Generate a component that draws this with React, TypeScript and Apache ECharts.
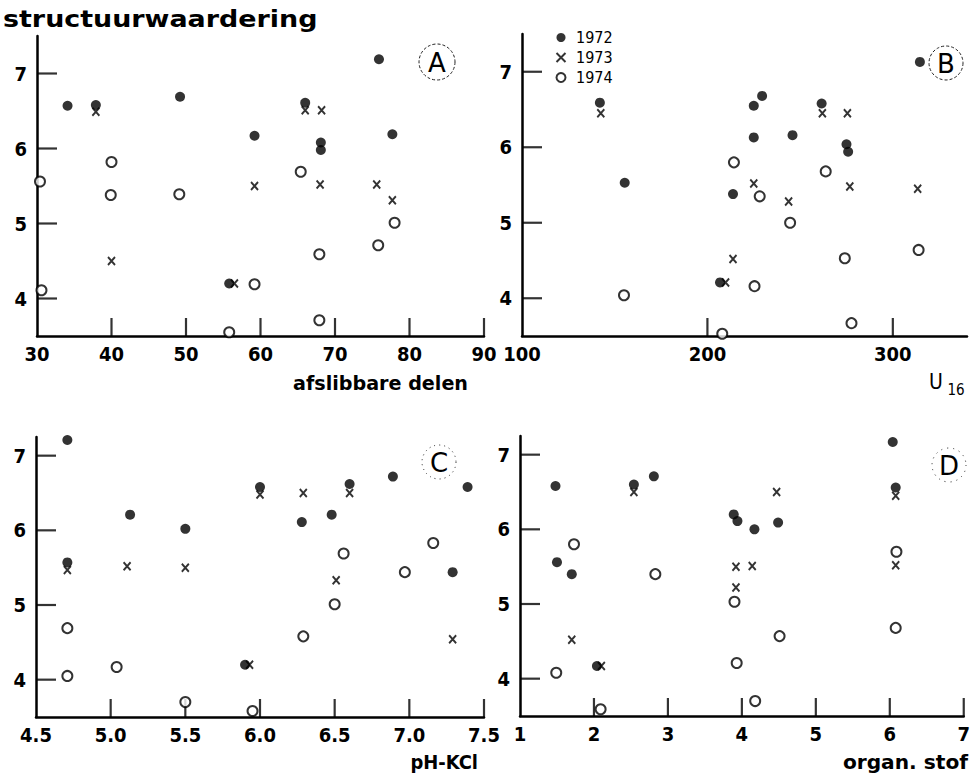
import React, { useEffect, useRef } from "react";
import * as echarts from "echarts";

// ---------- data: [x, structuurwaardering] ----------
const A_1972: [number, number][] = [
  [34.1, 6.57], [37.9, 6.58], [49.2, 6.69], [59.2, 6.17], [66.0, 6.61],
  [68.1, 6.08], [68.1, 5.98], [75.9, 7.19], [77.7, 6.19], [55.8, 4.2],
];
const A_1973: [number, number][] = [
  [37.9, 6.49], [66.0, 6.51], [68.2, 6.51], [59.2, 5.5], [68.0, 5.52],
  [75.6, 5.52], [77.7, 5.31], [40.0, 4.5], [56.5, 4.2],
];
const A_1974: [number, number][] = [
  [30.4, 5.56], [30.6, 4.11], [40.0, 5.82], [39.9, 5.38], [49.1, 5.39],
  [65.4, 5.69], [59.2, 4.19], [55.8, 3.55], [67.9, 3.71], [67.9, 4.59],
  [75.8, 4.71], [78.0, 5.01],
];

const B_1972: [number, number][] = [
  [142, 6.59], [155.4, 5.53], [213.8, 5.38], [225, 6.55], [229.5, 6.68],
  [225, 6.13], [245.9, 6.16], [261.6, 6.58], [275, 6.04], [275.9, 5.94],
  [314.6, 7.13], [206.8, 4.21],
];
const B_1973: [number, number][] = [
  [142.5, 6.45], [262, 6.45], [275.5, 6.45], [225, 5.52], [243.8, 5.28],
  [276.8, 5.48], [313.4, 5.45], [213.8, 4.52], [209.8, 4.21],
];
const B_1974: [number, number][] = [
  [155, 4.04], [214.3, 5.8], [228.2, 5.35], [263.8, 5.68], [244.6, 5.0],
  [225.4, 4.16], [208, 3.53], [274.1, 4.53], [277.7, 3.67], [313.9, 4.64],
];

const C_1972: [number, number][] = [
  [4.71, 7.21], [4.71, 5.57], [5.13, 6.21], [5.5, 6.02], [6.0, 6.58],
  [6.28, 6.11], [6.48, 6.21], [6.6, 6.62], [6.89, 6.72], [7.39, 6.58],
  [7.29, 5.44], [5.9, 4.2],
];
const C_1973: [number, number][] = [
  [4.71, 5.47], [5.11, 5.52], [5.5, 5.5], [6.0, 6.48], [6.29, 6.5],
  [6.6, 6.5], [6.51, 5.33], [7.29, 4.54], [5.93, 4.2],
];
const C_1974: [number, number][] = [
  [4.71, 4.69], [4.71, 4.05], [5.04, 4.17], [5.5, 3.7], [5.95, 3.58],
  [6.29, 4.58], [6.5, 5.01], [6.56, 5.69], [6.97, 5.44], [7.16, 5.83],
];

const D_1972: [number, number][] = [
  [1.48, 6.58], [1.5, 5.56], [1.7, 5.4], [2.54, 6.6], [2.81, 6.71],
  [3.89, 6.2], [3.94, 6.11], [4.17, 6.0], [4.49, 6.09], [6.04, 7.17],
  [6.08, 6.56], [2.04, 4.17],
];
const D_1973: [number, number][] = [
  [2.54, 6.5], [1.7, 4.52], [4.47, 6.5], [3.92, 5.5], [4.14, 5.51],
  [3.92, 5.22], [6.08, 6.45], [6.08, 5.52], [2.1, 4.17],
];
const D_1974: [number, number][] = [
  [1.49, 4.08], [1.73, 5.8], [2.83, 5.4], [3.9, 5.03], [3.93, 4.21],
  [4.18, 3.7], [4.51, 4.57], [6.09, 5.7], [6.08, 4.68], [2.09, 3.59],
];

const YEARS = ["1972", "1973", "1974"];
const Y_TICKS = [4, 5, 6, 7];
const A_TICKS = [30, 40, 50, 60, 70, 80, 90];
const B_TICKS = [100, 200, 300];
const C_TICKS = [4.5, 5.0, 5.5, 6.0, 6.5, 7.0, 7.5];
const D_TICKS = [1, 2, 3, 4, 5, 6, 7];

const TITLE = "structuurwaardering";
const X_NAMES = ["afslibbare delen", "U", "16", "pH-KCl", "organ. stof"];
const PANEL_LETTERS = ["A", "B", "C", "D"];

const NUM_FONT = "'DejaVu Sans Condensed', 'Liberation Sans Narrow', 'DejaVu Sans', sans-serif";
const X_PATH = "path://M1 1L9 9M9 1L1 9";

export default function App() {
  const ref = useRef<HTMLDivElement>(null);

  useEffect(() => {
    if (!ref.current) return;
    const chart = echarts.init(ref.current, undefined, { renderer: "svg" });

    const panels = [
      { data: [A_1972, A_1973, A_1974], xMin: 30, xMax: 90, yMax: 7.5, ticks: A_TICKS, fmt: (v: number) => String(v),
        grid: { left: 37, right: 489, top: 36, bottom: 440 } },
      { data: [B_1972, B_1973, B_1974], xMin: 100, xMax: 340, yMax: 7.5, ticks: B_TICKS, fmt: (v: number) => String(v),
        grid: { left: 522, right: 6, top: 34, bottom: 440 } },
      { data: [C_1972, C_1973, C_1974], xMin: 4.5, xMax: 7.5, yMax: 7.25, ticks: C_TICKS, fmt: (v: number) => v.toFixed(1),
        grid: { left: 36, right: 489, top: 437, bottom: 59 } },
      { data: [D_1972, D_1973, D_1974], xMin: 1, xMax: 7, yMax: 7.25, ticks: D_TICKS, fmt: (v: number) => String(v),
        grid: { left: 520, right: 6, top: 436, bottom: 60 } },
    ];
    const Y_MIN = 3.5;

    const axisLine = { show: true, onZero: false, lineStyle: { color: "#000", width: 2.5 } };
    const labelStyle = { color: "#000", fontFamily: NUM_FONT, fontWeight: "bold" as const, fontSize: 20 };

    const grids: any[] = [];
    const xAxes: any[] = [];
    const yAxes: any[] = [];
    const series: any[] = [];

    panels.forEach((p, i) => {
      grids.push({ ...p.grid, containLabel: false });
      xAxes.push({
        type: "value", gridIndex: i, min: p.xMin, max: p.xMax,
        axisLine, splitLine: { show: false }, axisTick: { show: false },
        axisLabel: { ...labelStyle, margin: 8, customValues: p.ticks, formatter: p.fmt },
      });
      yAxes.push({
        type: "value", gridIndex: i, min: Y_MIN, max: p.yMax,
        axisLine, splitLine: { show: false }, axisTick: { show: false },
        axisLabel: { ...labelStyle, margin: 10, customValues: Y_TICKS },
      });
      // inward tick marks, placed by the axes' own scales
      series.push({
        type: "scatter", name: "xticks" + i, xAxisIndex: i, yAxisIndex: i, silent: true, clip: false, z: 1,
        data: p.ticks.filter((t) => t !== p.xMin).map((t) => [t, Y_MIN]),
        symbol: "rect", symbolSize: [2.2, 18], symbolOffset: [0, -9],
        itemStyle: { color: "#000" },
      });
      series.push({
        type: "scatter", name: "yticks" + i, xAxisIndex: i, yAxisIndex: i, silent: true, clip: false, z: 1,
        data: Y_TICKS.map((t) => [p.xMin, t]),
        symbol: "rect", symbolSize: [20, 2.2], symbolOffset: [10, 0],
        itemStyle: { color: "#000" },
      });
      p.data.forEach((d, k) => {
        const base: any = {
          type: "scatter", name: YEARS[k], xAxisIndex: i, yAxisIndex: i, data: d,
          silent: true, clip: false, z: 3,
        };
        if (k === 0) {
          base.symbol = "circle"; base.symbolSize = 10; base.itemStyle = { color: "#000" };
        } else if (k === 1) {
          base.symbol = X_PATH; base.symbolSize = [7, 8];
          base.itemStyle = { color: "none", borderColor: "#000", borderWidth: 2 };
        } else {
          base.symbol = "circle"; base.symbolSize = 10;
          base.itemStyle = { color: "#fff", borderColor: "#000", borderWidth: 2 };
        }
        series.push(base);
      });
    });

    const txt = (text: string, x: number, y: number, size: number, align: string, extra: any = {}) => ({
      type: "text", x, y, ...extra,
      style: { text, fill: "#000", fontSize: size, fontFamily: NUM_FONT, fontWeight: "bold",
        textAlign: align, textVerticalAlign: "middle", verticalAlign: "middle", ...(extra.style || {}) },
    });

    const letterCircle = (cx: number, cy: number, letter: string, r: number, dash: number[]) => ([
      { type: "circle", shape: { cx, cy, r }, style: { fill: "none", stroke: "#222", lineWidth: 1, lineDash: dash } },
      { type: "text", x: cx, y: cy + 1, style: { text: letter, fill: "#000", fontSize: 26, fontFamily: "'DejaVu Sans', sans-serif",
        fontWeight: "normal", textAlign: "center", textVerticalAlign: "middle", verticalAlign: "middle" } },
    ]);

    const graphics: any[] = [
      { type: "text", x: 3, y: 19, scaleX: 1.17,
        style: { text: TITLE, fill: "#000", fontSize: 23, fontFamily: "'DejaVu Sans', sans-serif", fontWeight: "bold",
          textAlign: "left", textVerticalAlign: "middle", verticalAlign: "middle" } },
      txt(X_NAMES[0], 468, 383, 19, "right", { scaleX: 1.12 }),
      txt(X_NAMES[1], 936, 382, 21, "center", { style: { fontWeight: "normal" } }),
      txt(X_NAMES[2], 956, 390, 15, "center", { style: { fontWeight: "normal" } }),
      txt(X_NAMES[3], 478, 763, 19, "right", { scaleX: 1.05 }),
      txt(X_NAMES[4], 968, 763, 19, "right", { scaleX: 1.18 }),
      ...letterCircle(437, 62, PANEL_LETTERS[0], 18, [3, 2]),
      ...letterCircle(946, 63, PANEL_LETTERS[1], 17, [3, 2]),
      ...letterCircle(439, 462, PANEL_LETTERS[2], 17, [1, 4]),
      ...letterCircle(949, 465, PANEL_LETTERS[3], 17, [1, 5]),
    ];

    chart.setOption({
      animation: false,
      backgroundColor: "#fff",
      grid: grids,
      xAxis: xAxes,
      yAxis: yAxes,
      legend: {
        left: 549, top: 24, orient: "vertical", itemWidth: 20, itemHeight: 9, itemGap: 3,
        selectedMode: false,
        textStyle: { color: "#000", fontSize: 16, fontFamily: NUM_FONT, lineHeight: 17 },
        data: [
          { name: "1972", icon: "circle", itemStyle: { color: "#000" } },
          { name: "1973", icon: X_PATH, itemStyle: { color: "none", borderColor: "#000", borderWidth: 2 } },
          { name: "1974", icon: "circle", itemStyle: { color: "#fff", borderColor: "#000", borderWidth: 2 } },
        ],
      },
      series,
      graphic: graphics,
    });

    return () => chart.dispose();
  }, []);

  return <div ref={ref} style={{ width: 973, height: 776, position: "absolute", left: 0, top: 0 }} />;
}
